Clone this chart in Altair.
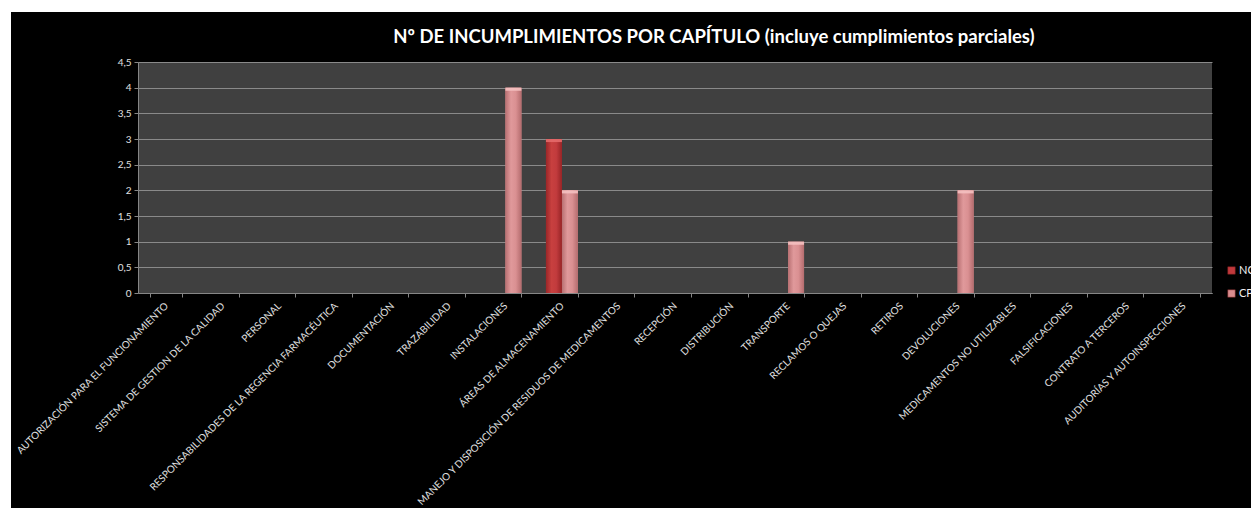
import altair as alt
import pandas as pd

categories = [
    "AUTORIZACIÓN PARA EL FUNCIONAMIENTO",
    "SISTEMA DE GESTION DE LA CALIDAD",
    "PERSONAL",
    "RESPONSABILIDADES DE LA REGENCIA FARMACÉUTICA",
    "DOCUMENTACIÓN",
    "TRAZABILIDAD",
    "INSTALACIONES",
    "ÁREAS DE ALMACENAMIENTO",
    "MANEJO Y DISPOSICIÓN DE RESIDUOS DE MEDICAMENTOS",
    "RECEPCIÓN",
    "DISTRIBUCIÓN",
    "TRANSPORTE",
    "RECLAMOS O QUEJAS",
    "RETIROS",
    "DEVOLUCIONES",
    "MEDICAMENTOS NO UTILIZABLES",
    "FALSIFICACIONES",
    "CONTRATO A TERCEROS",
    "AUDITORÍAS Y AUTOINSPECCIONES",
]
nc_values = [0, 0, 0, 0, 0, 0, 0, 3, 0, 0, 0, 0, 0, 0, 0, 0, 0, 0, 0]
cp_values = [0, 0, 0, 0, 0, 0, 4, 2, 0, 0, 0, 1, 0, 0, 2, 0, 0, 0, 0]
series = ["NC", "CP"]
series_colors = ["#c0393c", "#d98c8e"]
cap_colors = ["#e46a6a", "#f4c0c0"]
y_ticks = [0, 0.5, 1, 1.5, 2, 2.5, 3, 3.5, 4, 4.5]
title_text = "Nº DE INCUMPLIMIENTOS POR CAPÍTULO (incluye cumplimientos parciales)"

rows = []
for c, a, b in zip(categories, nc_values, cp_values):
    rows.append({"cat": c, "serie": "NC", "val": a})
    rows.append({"cat": c, "serie": "CP", "val": b})
df = pd.DataFrame(rows)

FONT = "Lato"

x_enc = alt.X(
    "cat:N",
    sort=categories,
    title=None,
    scale=alt.Scale(paddingInner=0.434, paddingOuter=0.217),
    axis=alt.Axis(
        labelAngle=-45,
        labelAlign="right",
        labelBaseline="middle",
        labelColor="#e0e0e0",
        labelFont=FONT,
        labelFontSize=10,
        labelPadding=7,
        labelLimit=400,
        labelOverlap=False,
        tickBand="extent",
        tickColor="#868686",
        tickSize=4,
        domainColor="#868686",
        grid=False,
    ),
)
y_enc = alt.Y(
    "val:Q",
    title=None,
    scale=alt.Scale(domain=[0, 4.5], nice=False),
    axis=alt.Axis(
        values=y_ticks,
        labelExpr="replace(format(datum.value, '~g'), '.', ',')",
        labelColor="#e0e0e0",
        labelFont=FONT,
        labelFontSize=10,
        labelPadding=3,
        tickColor="#868686",
        tickSize=4,
        domainColor="#868686",
        gridColor="#8a8a8a",
        gridWidth=1,
    ),
)
xo = alt.XOffset("serie:N", sort=series, scale=alt.Scale(domain=series, paddingInner=0, paddingOuter=0))

base = alt.Chart(df)

solid = base.mark_bar().encode(
    x=x_enc,
    y=y_enc,
    xOffset=xo,
    color=alt.Color(
        "serie:N",
        sort=series,
        scale=alt.Scale(domain=series, range=series_colors),
        legend=alt.Legend(
            title=None,
            orient="none",
            legendX=1088,
            legendY=203,
            symbolType="square",
            symbolSize=55,
            symbolStrokeColor="#7a2020",
            symbolStrokeWidth=0.5,
            labelColor="#f0f0f0",
            labelFont=FONT,
            labelFontSize=11,
            rowPadding=11,
            labelOffset=2,
        ),
    ),
)

grad_nc = alt.Gradient(
    gradient="linear", x1=0, x2=1, y1=0, y2=0,
    stops=[
        alt.GradientStop(color="#9a2628", offset=0),
        alt.GradientStop(color="#c8403f", offset=0.35),
        alt.GradientStop(color="#c23b3d", offset=0.65),
        alt.GradientStop(color="#962426", offset=1),
    ],
)
grad_cp = alt.Gradient(
    gradient="linear", x1=0, x2=1, y1=0, y2=0,
    stops=[
        alt.GradientStop(color="#b87072", offset=0),
        alt.GradientStop(color="#e0999b", offset=0.35),
        alt.GradientStop(color="#da9092", offset=0.65),
        alt.GradientStop(color="#b46c6e", offset=1),
    ],
)

nc_layer = base.mark_bar(color=grad_nc).encode(x=x_enc, y=y_enc, xOffset=xo).transform_filter(
    alt.datum.serie == "NC"
)
cp_layer = base.mark_bar(color=grad_cp).encode(x=x_enc, y=y_enc, xOffset=xo).transform_filter(
    alt.datum.serie == "CP"
)


def cap_layer(serie, color):
    return (
        base.transform_filter((alt.datum.val > 0) & (alt.datum.serie == serie))
        .transform_calculate(top2="datum.val - 0.06")
        .mark_bar(color=color, opacity=0.9)
        .encode(x=x_enc, y=y_enc, y2="top2:Q", xOffset=xo)
    )


cap_nc = cap_layer("NC", cap_colors[0])
cap_cp = cap_layer("CP", cap_colors[1])

one = pd.DataFrame({"a": [0]})
top_strip = alt.Chart(one).mark_rect(color="#ffffff").encode(
    x=alt.value(-140), x2=alt.value(1120), y=alt.value(-64), y2=alt.value(-50)
)
left_strip = alt.Chart(one).mark_rect(color="#ffffff").encode(
    x=alt.value(-140), x2=alt.value(-127), y=alt.value(-64), y2=alt.value(460)
)
title_mark = alt.Chart(one).mark_text(
    text=title_text,
    color="#ffffff",
    font=FONT,
    fontSize=18.5,
    fontWeight="bold",
    align="center",
    baseline="alphabetic",
).encode(x=alt.value(576), y=alt.value(-19))

chart = (
    alt.layer(solid, nc_layer, cp_layer, cap_nc, cap_cp, top_strip, left_strip, title_mark)
    .properties(
        width=1074,
        height=231,
        autosize=alt.AutoSizeParams(type="none"),
        padding={"left": 138, "top": 62, "right": 39, "bottom": 215},
        background="#000000",
    )
    .configure_view(fill="#404040", stroke=None)
)

chart.save("out.html", embed_options={"renderer": "svg", "actions": False})
